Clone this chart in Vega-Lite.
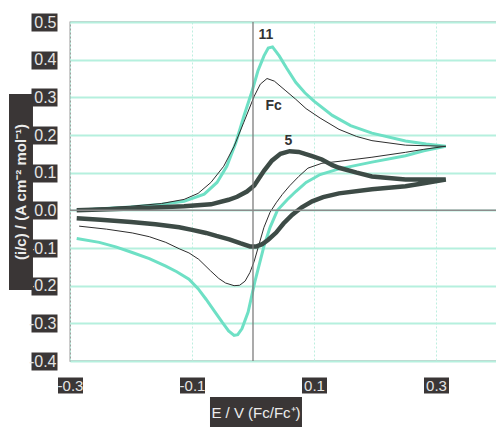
{
  "$schema": "https://vega.github.io/schema/vega-lite/v6.json",
  "autosize": {"type": "none"},
  "padding": {"left": 70, "top": 22, "right": 0, "bottom": 66},
  "width": 427,
  "height": 339,
  "background": "white",
  "config": {
    "view": {"stroke": "#8f8f8f", "strokeWidth": 1.3},
    "font": "Liberation Sans"
  },
  "datasets": {
    "cv": [
      {"s": "11", "o": 1, "E": -0.289, "i": 0.0},
      {"s": "11", "o": 2, "E": -0.25, "i": 0.004},
      {"s": "11", "o": 3, "E": -0.2, "i": 0.009},
      {"s": "11", "o": 4, "E": -0.15, "i": 0.016},
      {"s": "11", "o": 5, "E": -0.113, "i": 0.024},
      {"s": "11", "o": 6, "E": -0.08, "i": 0.043},
      {"s": "11", "o": 7, "E": -0.059, "i": 0.074},
      {"s": "11", "o": 8, "E": -0.043, "i": 0.117},
      {"s": "11", "o": 9, "E": -0.028, "i": 0.18},
      {"s": "11", "o": 10, "E": -0.015, "i": 0.25},
      {"s": "11", "o": 11, "E": -0.002, "i": 0.314},
      {"s": "11", "o": 12, "E": 0.008, "i": 0.37},
      {"s": "11", "o": 13, "E": 0.018, "i": 0.41},
      {"s": "11", "o": 14, "E": 0.025, "i": 0.431},
      {"s": "11", "o": 15, "E": 0.032, "i": 0.434},
      {"s": "11", "o": 16, "E": 0.043, "i": 0.41},
      {"s": "11", "o": 17, "E": 0.055, "i": 0.378},
      {"s": "11", "o": 18, "E": 0.07, "i": 0.34},
      {"s": "11", "o": 19, "E": 0.085, "i": 0.312},
      {"s": "11", "o": 20, "E": 0.1, "i": 0.29},
      {"s": "11", "o": 21, "E": 0.13, "i": 0.252},
      {"s": "11", "o": 22, "E": 0.16, "i": 0.225},
      {"s": "11", "o": 23, "E": 0.195, "i": 0.205},
      {"s": "11", "o": 24, "E": 0.25, "i": 0.184},
      {"s": "11", "o": 25, "E": 0.284, "i": 0.176},
      {"s": "11", "o": 26, "E": 0.316, "i": 0.17},
      {"s": "11", "o": 27, "E": 0.28, "i": 0.158},
      {"s": "11", "o": 28, "E": 0.25, "i": 0.145},
      {"s": "11", "o": 29, "E": 0.195, "i": 0.128},
      {"s": "11", "o": 30, "E": 0.141, "i": 0.11},
      {"s": "11", "o": 31, "E": 0.11, "i": 0.095},
      {"s": "11", "o": 32, "E": 0.087, "i": 0.074},
      {"s": "11", "o": 33, "E": 0.07, "i": 0.05},
      {"s": "11", "o": 34, "E": 0.056, "i": 0.028},
      {"s": "11", "o": 35, "E": 0.04, "i": 0.0},
      {"s": "11", "o": 36, "E": 0.028, "i": -0.045},
      {"s": "11", "o": 37, "E": 0.018, "i": -0.095},
      {"s": "11", "o": 38, "E": 0.003, "i": -0.19},
      {"s": "11", "o": 39, "E": -0.008, "i": -0.27},
      {"s": "11", "o": 40, "E": -0.018, "i": -0.314},
      {"s": "11", "o": 41, "E": -0.025, "i": -0.33},
      {"s": "11", "o": 42, "E": -0.031, "i": -0.332},
      {"s": "11", "o": 43, "E": -0.04, "i": -0.32},
      {"s": "11", "o": 44, "E": -0.05, "i": -0.298},
      {"s": "11", "o": 45, "E": -0.063, "i": -0.268},
      {"s": "11", "o": 46, "E": -0.077, "i": -0.236},
      {"s": "11", "o": 47, "E": -0.09, "i": -0.208},
      {"s": "11", "o": 48, "E": -0.105, "i": -0.183},
      {"s": "11", "o": 49, "E": -0.125, "i": -0.163},
      {"s": "11", "o": 50, "E": -0.143, "i": -0.148},
      {"s": "11", "o": 51, "E": -0.17, "i": -0.128},
      {"s": "11", "o": 52, "E": -0.198, "i": -0.112},
      {"s": "11", "o": 53, "E": -0.225, "i": -0.097},
      {"s": "11", "o": 54, "E": -0.252, "i": -0.085},
      {"s": "11", "o": 55, "E": -0.289, "i": -0.075},

      {"s": "Fc", "o": 1, "E": -0.285, "i": 0.003},
      {"s": "Fc", "o": 2, "E": -0.25, "i": 0.006},
      {"s": "Fc", "o": 3, "E": -0.2, "i": 0.011},
      {"s": "Fc", "o": 4, "E": -0.15, "i": 0.018},
      {"s": "Fc", "o": 5, "E": -0.113, "i": 0.029},
      {"s": "Fc", "o": 6, "E": -0.09, "i": 0.045},
      {"s": "Fc", "o": 7, "E": -0.069, "i": 0.074},
      {"s": "Fc", "o": 8, "E": -0.048, "i": 0.117},
      {"s": "Fc", "o": 9, "E": -0.031, "i": 0.17},
      {"s": "Fc", "o": 10, "E": -0.015, "i": 0.234},
      {"s": "Fc", "o": 11, "E": 0.002, "i": 0.303},
      {"s": "Fc", "o": 12, "E": 0.012, "i": 0.335},
      {"s": "Fc", "o": 13, "E": 0.023, "i": 0.35},
      {"s": "Fc", "o": 14, "E": 0.035, "i": 0.343},
      {"s": "Fc", "o": 15, "E": 0.054, "i": 0.317},
      {"s": "Fc", "o": 16, "E": 0.07, "i": 0.295},
      {"s": "Fc", "o": 17, "E": 0.087, "i": 0.27},
      {"s": "Fc", "o": 18, "E": 0.11, "i": 0.245},
      {"s": "Fc", "o": 19, "E": 0.141, "i": 0.215},
      {"s": "Fc", "o": 20, "E": 0.17, "i": 0.196},
      {"s": "Fc", "o": 21, "E": 0.195, "i": 0.185},
      {"s": "Fc", "o": 22, "E": 0.25, "i": 0.173},
      {"s": "Fc", "o": 23, "E": 0.316, "i": 0.17},
      {"s": "Fc", "o": 24, "E": 0.28, "i": 0.162},
      {"s": "Fc", "o": 25, "E": 0.25, "i": 0.154},
      {"s": "Fc", "o": 26, "E": 0.195, "i": 0.141},
      {"s": "Fc", "o": 27, "E": 0.141, "i": 0.13},
      {"s": "Fc", "o": 28, "E": 0.113, "i": 0.125},
      {"s": "Fc", "o": 29, "E": 0.09, "i": 0.112},
      {"s": "Fc", "o": 30, "E": 0.075, "i": 0.09},
      {"s": "Fc", "o": 31, "E": 0.06, "i": 0.065},
      {"s": "Fc", "o": 32, "E": 0.048, "i": 0.042},
      {"s": "Fc", "o": 33, "E": 0.038, "i": 0.02},
      {"s": "Fc", "o": 34, "E": 0.028, "i": -0.005},
      {"s": "Fc", "o": 35, "E": 0.018, "i": -0.045},
      {"s": "Fc", "o": 36, "E": 0.01, "i": -0.09},
      {"s": "Fc", "o": 37, "E": 0.002, "i": -0.135},
      {"s": "Fc", "o": 38, "E": -0.005, "i": -0.165},
      {"s": "Fc", "o": 39, "E": -0.013, "i": -0.188},
      {"s": "Fc", "o": 40, "E": -0.022, "i": -0.199},
      {"s": "Fc", "o": 41, "E": -0.031, "i": -0.2},
      {"s": "Fc", "o": 42, "E": -0.045, "i": -0.193},
      {"s": "Fc", "o": 43, "E": -0.056, "i": -0.181},
      {"s": "Fc", "o": 44, "E": -0.07, "i": -0.16},
      {"s": "Fc", "o": 45, "E": -0.089, "i": -0.13},
      {"s": "Fc", "o": 46, "E": -0.105, "i": -0.113},
      {"s": "Fc", "o": 47, "E": -0.121, "i": -0.102},
      {"s": "Fc", "o": 48, "E": -0.143, "i": -0.085},
      {"s": "Fc", "o": 49, "E": -0.17, "i": -0.07},
      {"s": "Fc", "o": 50, "E": -0.198, "i": -0.06},
      {"s": "Fc", "o": 51, "E": -0.24, "i": -0.05},
      {"s": "Fc", "o": 52, "E": -0.285, "i": -0.042},

      {"s": "5", "o": 1, "E": -0.289, "i": 0.0},
      {"s": "5", "o": 2, "E": -0.2, "i": 0.005},
      {"s": "5", "o": 3, "E": -0.113, "i": 0.011},
      {"s": "5", "o": 4, "E": -0.069, "i": 0.016},
      {"s": "5", "o": 5, "E": -0.04, "i": 0.028},
      {"s": "5", "o": 6, "E": -0.026, "i": 0.036},
      {"s": "5", "o": 7, "E": -0.01, "i": 0.05},
      {"s": "5", "o": 8, "E": 0.002, "i": 0.066},
      {"s": "5", "o": 9, "E": 0.018, "i": 0.105},
      {"s": "5", "o": 10, "E": 0.031, "i": 0.132},
      {"s": "5", "o": 11, "E": 0.045, "i": 0.15},
      {"s": "5", "o": 12, "E": 0.06, "i": 0.157},
      {"s": "5", "o": 13, "E": 0.075, "i": 0.155},
      {"s": "5", "o": 14, "E": 0.097, "i": 0.144},
      {"s": "5", "o": 15, "E": 0.113, "i": 0.135},
      {"s": "5", "o": 16, "E": 0.13, "i": 0.12},
      {"s": "5", "o": 17, "E": 0.141, "i": 0.113},
      {"s": "5", "o": 18, "E": 0.17, "i": 0.1},
      {"s": "5", "o": 19, "E": 0.195, "i": 0.09},
      {"s": "5", "o": 20, "E": 0.25, "i": 0.082},
      {"s": "5", "o": 21, "E": 0.316, "i": 0.082},
      {"s": "5", "o": 22, "E": 0.28, "i": 0.072},
      {"s": "5", "o": 23, "E": 0.25, "i": 0.064},
      {"s": "5", "o": 24, "E": 0.195, "i": 0.056},
      {"s": "5", "o": 25, "E": 0.141, "i": 0.045},
      {"s": "5", "o": 26, "E": 0.115, "i": 0.035},
      {"s": "5", "o": 27, "E": 0.097, "i": 0.024},
      {"s": "5", "o": 28, "E": 0.08, "i": 0.008},
      {"s": "5", "o": 29, "E": 0.064, "i": -0.012},
      {"s": "5", "o": 30, "E": 0.05, "i": -0.035},
      {"s": "5", "o": 31, "E": 0.038, "i": -0.059},
      {"s": "5", "o": 32, "E": 0.025, "i": -0.078},
      {"s": "5", "o": 33, "E": 0.015, "i": -0.09},
      {"s": "5", "o": 34, "E": 0.005, "i": -0.096},
      {"s": "5", "o": 35, "E": -0.005, "i": -0.096},
      {"s": "5", "o": 36, "E": -0.02, "i": -0.088},
      {"s": "5", "o": 37, "E": -0.039, "i": -0.077},
      {"s": "5", "o": 38, "E": -0.06, "i": -0.068},
      {"s": "5", "o": 39, "E": -0.077, "i": -0.06},
      {"s": "5", "o": 40, "E": -0.1, "i": -0.052},
      {"s": "5", "o": 41, "E": -0.121, "i": -0.045},
      {"s": "5", "o": 42, "E": -0.16, "i": -0.037},
      {"s": "5", "o": 43, "E": -0.2, "i": -0.031},
      {"s": "5", "o": 44, "E": -0.25, "i": -0.025},
      {"s": "5", "o": 45, "E": -0.289, "i": -0.021}
    ],
    "labels": [
      {"label": "11", "E": 0.021, "i": 0.465},
      {"label": "Fc", "E": 0.034, "i": 0.277},
      {"label": "5", "E": 0.058, "i": 0.184}
    ],
    "one": [{}]
  },
  "layer": [
    {
      "data": {"name": "cv"},
      "transform": [{"filter": "datum.s === '11'"}],
      "mark": {"type": "line", "color": "#6ee0c5", "strokeWidth": 3, "clip": true},
      "encoding": {
        "x": {
          "field": "E", "type": "quantitative",
          "scale": {"domain": [-0.3, 0.4], "nice": false, "zero": false},
          "axis": {
            "orient": "bottom",
            "values": [-0.3, -0.1, 0.1, 0.3],
            "labelExpr": "replace(format(datum.value, '.1f'), '\u2212', '-')",
            "title": null,
            "domain": false,
            "offset": 16,
            "ticks": true,
            "tickSize": 16,
            "tickWidth": 25,
            "tickColor": "#3a3636",
            "tickCap": "butt",
            "labelPadding": -8,
            "labelBaseline": "middle",
            "labelColor": "#e4e4e4",
            "labelFont": "Liberation Sans Narrow, Liberation Sans",
            "labelFontSize": 15,
            "labelFlush": false,
            "labelOverlap": false,
            "grid": true,
            "gridColor": "#bdeedf",
            "gridWidth": 1,
            "gridDash": [2, 2]
          }
        },
        "y": {
          "field": "i", "type": "quantitative",
          "scale": {"domain": [-0.4, 0.5], "nice": false, "zero": false},
          "axis": {
            "orient": "left",
            "values": [-0.4, -0.3, -0.2, -0.1, 0, 0.1, 0.2, 0.3, 0.4, 0.5],
            "tickCount": 10,
            "labelExpr": "replace(format(datum.value, '.1f'), '\u2212', '-')",
            "title": null,
            "domain": false,
            "offset": 13,
            "ticks": true,
            "tickSize": 26,
            "tickWidth": 18,
            "tickColor": "#3a3636",
            "tickCap": "butt",
            "labelPadding": -25,
            "labelColor": "#e4e4e4",
            "labelFont": "Liberation Sans Narrow, Liberation Sans",
            "labelFontSize": 16,
            "labelFlush": false,
            "labelOverlap": false,
            "grid": true,
            "gridColor": "#b5f0de",
            "gridWidth": 1.8
          }
        },
        "order": {"field": "o", "type": "quantitative"}
      }
    },
    {
      "data": {"name": "cv"},
      "transform": [{"filter": "datum.s === 'Fc'"}],
      "mark": {"type": "line", "color": "#2e2e2e", "strokeWidth": 1, "clip": true},
      "encoding": {
        "x": {"field": "E", "type": "quantitative"},
        "y": {"field": "i", "type": "quantitative"},
        "order": {"field": "o", "type": "quantitative"}
      }
    },
    {
      "data": {"name": "cv"},
      "transform": [{"filter": "datum.s === '5'"}],
      "mark": {"type": "line", "color": "#3d4b46", "strokeWidth": 4.5, "clip": true},
      "encoding": {
        "x": {"field": "E", "type": "quantitative"},
        "y": {"field": "i", "type": "quantitative"},
        "order": {"field": "o", "type": "quantitative"}
      }
    },
    {
      "data": {"name": "one"},
      "mark": {"type": "rule", "color": "#7d7d7d", "strokeWidth": 1.3},
      "encoding": {
        "x": {"datum": 0, "type": "quantitative"}
      }
    },
    {
      "data": {"name": "one"},
      "mark": {"type": "rule", "color": "#8c8c8c", "strokeWidth": 1.5},
      "encoding": {
        "y": {"datum": 0, "type": "quantitative"}
      }
    },
    {
      "data": {"name": "labels"},
      "mark": {"type": "text", "font": "Liberation Sans", "fontSize": 14, "fontWeight": "bold", "color": "#333333", "align": "center", "baseline": "middle"},
      "encoding": {
        "x": {"field": "E", "type": "quantitative"},
        "y": {"field": "i", "type": "quantitative"},
        "text": {"field": "label"}
      }
    },
    {
      "data": {"name": "one"},
      "mark": {"type": "rect", "color": "#3a3636"},
      "encoding": {
        "x": {"datum": -0.4, "type": "quantitative"},
        "x2": {"datum": -0.3607},
        "y": {"datum": 0.3089, "type": "quantitative"},
        "y2": {"datum": -0.2115}
      }
    },
    {
      "data": {"name": "one"},
      "mark": {"type": "text", "text": "(i/c) / (A cm⁻² mol⁻¹)", "angle": 270, "font": "Liberation Sans", "fontSize": 15, "fontWeight": "bold", "color": "#ececec", "align": "center", "baseline": "middle"},
      "encoding": {
        "x": {"datum": -0.3803, "type": "quantitative"},
        "y": {"datum": 0.0487, "type": "quantitative"}
      }
    },
    {
      "data": {"name": "one"},
      "mark": {"type": "rect", "color": "#3a3636"},
      "encoding": {
        "x": {"datum": -0.0705, "type": "quantitative"},
        "x2": {"datum": 0.0803},
        "y": {"datum": -0.4956, "type": "quantitative"},
        "y2": {"datum": -0.6}
      }
    },
    {
      "data": {"name": "one"},
      "mark": {"type": "text", "text": "E / V (Fc/Fc⁺)", "font": "Liberation Sans", "fontSize": 15, "color": "#ececec", "align": "center", "baseline": "middle"},
      "encoding": {
        "x": {"datum": 0.0049, "type": "quantitative"},
        "y": {"datum": -0.538, "type": "quantitative"}
      }
    }
  ]
}
